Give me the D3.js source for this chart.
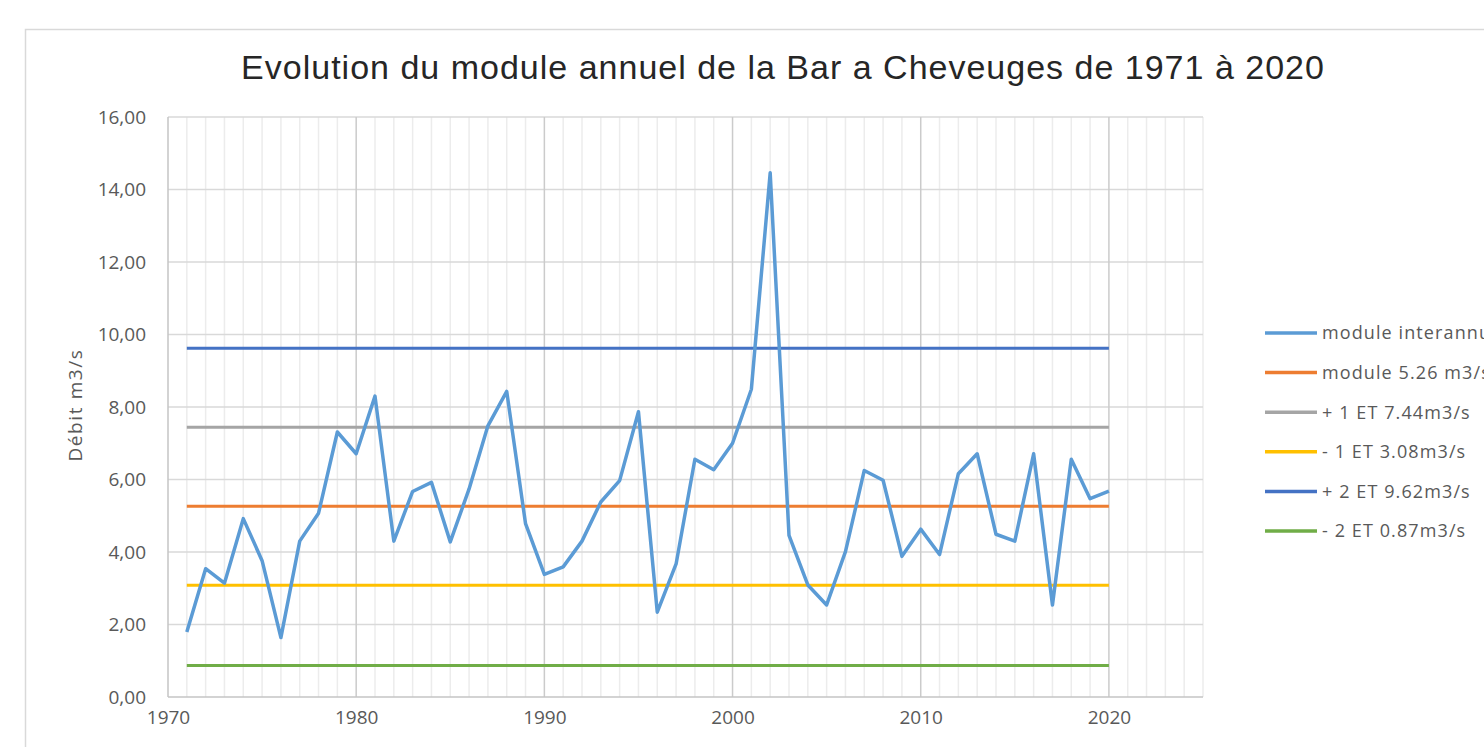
<!DOCTYPE html>
<html>
<head>
<meta charset="utf-8">
<script src="https://cdn.jsdelivr.net/npm/d3@7"></script>
<style>
  body { margin: 0; background: #fff; overflow: hidden; }
  svg { display: block; }
</style>
</head>
<body>
<div id="chart"></div>
<script>
// annual flow of the Bar at Cheveuges (m3/s)
var years = [1971,1972,1973,1974,1975,1976,1977,1978,1979,1980,
  1981,1982,1983,1984,1985,1986,1987,1988,1989,1990,
  1991,1992,1993,1994,1995,1996,1997,1998,1999,2000,
  2001,2002,2003,2004,2005,2006,2007,2008,2009,2010,
  2011,2012,2013,2014,2015,2016,2017,2018,2019,2020];
var debit = [1.79,3.54,3.14,4.92,3.76,1.64,4.30,5.07,7.31,6.71,
  8.30,4.30,5.67,5.92,4.28,5.74,7.48,8.43,4.78,3.38,
  3.59,4.30,5.38,5.97,7.87,2.34,3.67,6.56,6.27,7.00,
  8.49,14.46,4.46,3.09,2.54,4.01,6.25,5.98,3.88,4.63,
  3.93,6.16,6.71,4.49,4.30,6.71,2.54,6.56,5.47,5.68];

var refNames = ["module 5.26 m3/s","+ 1 ET 7.44m3/s","- 1 ET 3.08m3/s","+ 2 ET 9.62m3/s","- 2 ET 0.87m3/s"];
var refValues = [5.26,7.44,3.08,9.62,0.87];
var refColors = ["#ED7D31","#A5A5A5","#FFC000","#4472C4","#70AD47"];

var legendNames = ["module interannuel"].concat(refNames);
var legendColors = ["#5B9BD5"].concat(refColors);

var yTicks = [0,2,4,6,8,10,12,14,16];
var xTicks = [1970,1980,1990,2000,2010,2020];

var width = 1484, height = 747;
var margin = {left: 168, top: 117, right: 1203, bottom: 697};

var svg = d3.select("#chart").append("svg")
  .attr("width", width)
  .attr("height", height);

// outer chart frame
svg.append("rect")
  .attr("x", 25.5).attr("y", 29.5)
  .attr("width", 1600).attr("height", 900)
  .attr("fill", "none")
  .attr("stroke", "#d9d9d9")
  .attr("stroke-width", 1.5);

var x = d3.scaleLinear().domain([1970, 2025]).range([margin.left, margin.right]);
var y = d3.scaleLinear().domain([0, 16]).range([margin.bottom, margin.top]);

// minor vertical grid every year
var g = svg.append("g");
g.selectAll(".vminor")
  .data(d3.range(1971, 2026).filter(function(d){ return d % 10 != 0; }))
  .enter().append("line")
  .attr("x1", function(d){ return x(d); })
  .attr("x2", function(d){ return x(d); })
  .attr("y1", y(0)).attr("y2", y(16))
  .attr("stroke", "#ececec")
  .attr("stroke-width", 1.5);

// horizontal grid
g.selectAll(".hgrid")
  .data(yTicks.slice(1))
  .enter().append("line")
  .attr("x1", x(1970)).attr("x2", x(2025))
  .attr("y1", function(d){ return y(d); })
  .attr("y2", function(d){ return y(d); })
  .attr("stroke", "#d9d9d9")
  .attr("stroke-width", 1.5);

// major vertical grid
g.selectAll(".vmajor")
  .data(xTicks.slice(1))
  .enter().append("line")
  .attr("x1", function(d){ return x(d); })
  .attr("x2", function(d){ return x(d); })
  .attr("y1", y(0)).attr("y2", y(16))
  .attr("stroke", "#cbcbcb")
  .attr("stroke-width", 1.5);

// axes lines
svg.append("line")
  .attr("x1", x(1970)).attr("x2", x(1970))
  .attr("y1", y(0)).attr("y2", y(16))
  .attr("stroke", "#c4c4c4").attr("stroke-width", 1.5);
svg.append("line")
  .attr("x1", x(1970)).attr("x2", x(2025))
  .attr("y1", y(0)).attr("y2", y(0))
  .attr("stroke", "#c4c4c4").attr("stroke-width", 1.5);

// y tick labels
var fmt = function(d){ return d3.format(".2f")(d).replace(".", ","); };
var yAxis = d3.axisLeft(y).tickValues(yTicks).tickFormat(fmt).tickSize(0).tickPadding(22);
svg.append("g")
  .attr("transform", "translate(" + margin.left + ",0)")
  .call(yAxis)
  .call(function(s){ s.select(".domain").remove(); })
  .selectAll("text")
  .attr("font-family", "'Open Sans', sans-serif")
  .attr("font-size", 19)
  .attr("fill", "#595959");

// x tick labels
var xAxis = d3.axisBottom(x).tickValues(xTicks).tickFormat(d3.format("d")).tickSize(0).tickPadding(14);
svg.append("g")
  .attr("transform", "translate(0," + margin.bottom + ")")
  .call(xAxis)
  .call(function(s){ s.select(".domain").remove(); })
  .selectAll("text")
  .attr("font-family", "'Open Sans', sans-serif")
  .attr("font-size", 19)
  .attr("fill", "#595959");

// reference lines
svg.selectAll(".ref")
  .data(refValues)
  .enter().append("line")
  .attr("x1", x(years[0]))
  .attr("x2", x(years[years.length - 1]))
  .attr("y1", function(d){ return y(d); })
  .attr("y2", function(d){ return y(d); })
  .attr("stroke", function(d, i){ return refColors[i]; })
  .attr("stroke-width", 3);

// annual series
var line = d3.line()
  .x(function(d, i){ return x(years[i]); })
  .y(function(d){ return y(d); });

svg.append("path")
  .datum(debit)
  .attr("d", line)
  .attr("fill", "none")
  .attr("stroke", "#5B9BD5")
  .attr("stroke-width", 3.5)
  .attr("stroke-linejoin", "round");

// title
svg.append("text")
  .attr("x", 783).attr("y", 79)
  .attr("text-anchor", "middle")
  .attr("font-family", "'Liberation Sans', Arial, sans-serif")
  .attr("font-size", 34)
  .attr("letter-spacing", 1)
  .attr("fill", "#262626")
  .text("Evolution du module annuel de la Bar a Cheveuges de 1971 à 2020");

// y axis title
svg.append("text")
  .attr("transform", "translate(82,405) rotate(-90)")
  .attr("text-anchor", "middle")
  .attr("font-family", "'Open Sans', sans-serif")
  .attr("font-size", 19)
  .attr("letter-spacing", 1.6)
  .attr("fill", "#595959")
  .text("Débit m3/s");

// legend
var legend = svg.selectAll(".legend")
  .data(legendNames)
  .enter().append("g")
  .attr("transform", function(d, i){ return "translate(1265," + (333 + i * 39.6) + ")"; });

legend.append("line")
  .attr("x1", 0).attr("x2", 52)
  .attr("stroke", function(d, i){ return legendColors[i]; })
  .attr("stroke-width", 3.5);

legend.append("text")
  .attr("x", 57)
  .attr("dy", "0.35em")
  .attr("font-family", "'Open Sans', sans-serif")
  .attr("font-size", 18)
  .attr("letter-spacing", 1.1)
  .attr("fill", "#595959")
  .text(function(d){ return d; });
</script>
</body>
</html>
